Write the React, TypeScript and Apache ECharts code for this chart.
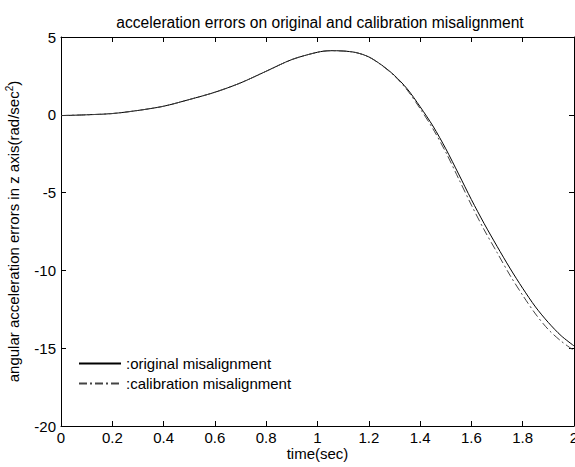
import React, { useEffect, useRef } from "react";
import * as echarts from "echarts";

const times = [0, 0.1, 0.2, 0.3, 0.4, 0.5, 0.6, 0.7, 0.8, 0.9, 1.0, 1.05, 1.1, 1.15, 1.2, 1.25, 1.3, 1.35, 1.4, 1.45, 1.5, 1.55, 1.6, 1.65, 1.7, 1.75, 1.8, 1.85, 1.9, 1.95, 2.0];
const original = [-0.05, 0, 0.08, 0.28, 0.55, 0.98, 1.45, 2.05, 2.8, 3.55, 4.02, 4.12, 4.1, 4.0, 3.72, 3.2, 2.53, 1.66, 0.52, -0.72, -2.18, -3.8, -5.45, -7.0, -8.45, -9.85, -11.15, -12.35, -13.35, -14.2, -14.85];
const calibration = [-0.05, 0, 0.08, 0.28, 0.55, 0.98, 1.45, 2.05, 2.8, 3.55, 4.02, 4.12, 4.1, 4.0, 3.72, 3.18, 2.5, 1.58, 0.4, -0.9, -2.4, -4.1, -5.8, -7.4, -8.85, -10.3, -11.6, -12.8, -13.8, -14.55, -15.15];
const seriesNames = [":original misalignment", ":calibration misalignment"];
const titleText = "acceleration errors on original and calibration misalignment";
const xName = "time(sec)";

const FONT = "'Liberation Sans', Arial, sans-serif";

export default function App() {
  const ref = useRef<HTMLDivElement>(null);
  useEffect(() => {
    if (!ref.current) return;
    const chart = echarts.init(ref.current, undefined, { renderer: "svg" });
    const axisLine = { show: true, onZero: false, lineStyle: { color: "#000", width: 1 } };
    const tick = { show: true, inside: true, length: 5, lineStyle: { color: "#000" } };
    chart.setOption({
      animation: false,
      backgroundColor: "#fff",
      textStyle: { fontFamily: FONT },
      title: {
        text: titleText,
        left: 315,
        textAlign: "center",
        top: 9,
        textStyle: { fontSize: 15.6, fontWeight: "normal", color: "#000", fontFamily: FONT },
      },
      grid: { left: 61, top: 37, right: 1, bottom: 41, containLabel: false, outerBoundsMode: "none" },
      legend: {
        left: 73,
        top: 351,
        orient: "vertical",
        itemWidth: 42,
        itemHeight: 14,
        itemGap: 5,
        itemStyle: { opacity: 0 },
        textStyle: { fontSize: 15, color: "#000", fontFamily: FONT },
        data: seriesNames,
      },
      xAxis: [
        {
          type: "value",
          min: 0,
          max: 2,
          interval: 0.2,
          axisLine,
          axisTick: tick,
          splitLine: { show: false },
          axisLabel: { color: "#000", fontSize: 15, margin: 4, fontFamily: FONT },
          name: xName,
          nameLocation: "middle",
          nameGap: 20,
          nameMoveOverlap: false,
          nameTextStyle: { color: "#000", fontSize: 15, fontFamily: FONT },
        },
        {
          type: "value",
          position: "top",
          min: 0,
          max: 2,
          interval: 0.2,
          axisLine,
          axisTick: tick,
          splitLine: { show: false },
          axisLabel: { show: false },
        },
      ],
      yAxis: [
        {
          type: "value",
          min: -20,
          max: 5,
          interval: 5,
          axisLine,
          axisTick: tick,
          splitLine: { show: false },
          axisLabel: { color: "#000", fontSize: 15, margin: 5, fontFamily: FONT },
          name: "angular acceleration errors in z axis(rad/sec{sup|2})",
          nameLocation: "middle",
          nameGap: 39,
          nameTextStyle: {
            color: "#000",
            fontSize: 15,
            fontFamily: FONT,
            rich: {
              sup: { fontSize: 10, color: "#000", fontFamily: FONT, padding: [0, 0, 8, 0] },
            },
          },
        },
        {
          type: "value",
          position: "right",
          min: -20,
          max: 5,
          interval: 5,
          axisLine,
          axisTick: tick,
          splitLine: { show: false },
          axisLabel: { show: false },
        },
      ],
      series: [
        {
          name: seriesNames[0],
          type: "line",
          data: times.map((t, i) => [t, original[i]]),
          showSymbol: false,
          symbol: "none",
          smooth: 0.3,
          lineStyle: { color: "#000", width: 1, type: "solid" },
          itemStyle: { color: "#000" },
        },
        {
          name: seriesNames[1],
          type: "line",
          data: times.map((t, i) => [t, calibration[i]]),
          showSymbol: false,
          symbol: "none",
          smooth: 0.3,
          lineStyle: { color: "#444", width: 1, type: [8, 3, 2, 3] },
          itemStyle: { color: "#444" },
        },
      ],
    });
    return () => chart.dispose();
  }, []);
  return <div ref={ref} style={{ width: 575, height: 467, position: "absolute", left: 0, top: 0 }} />;
}
